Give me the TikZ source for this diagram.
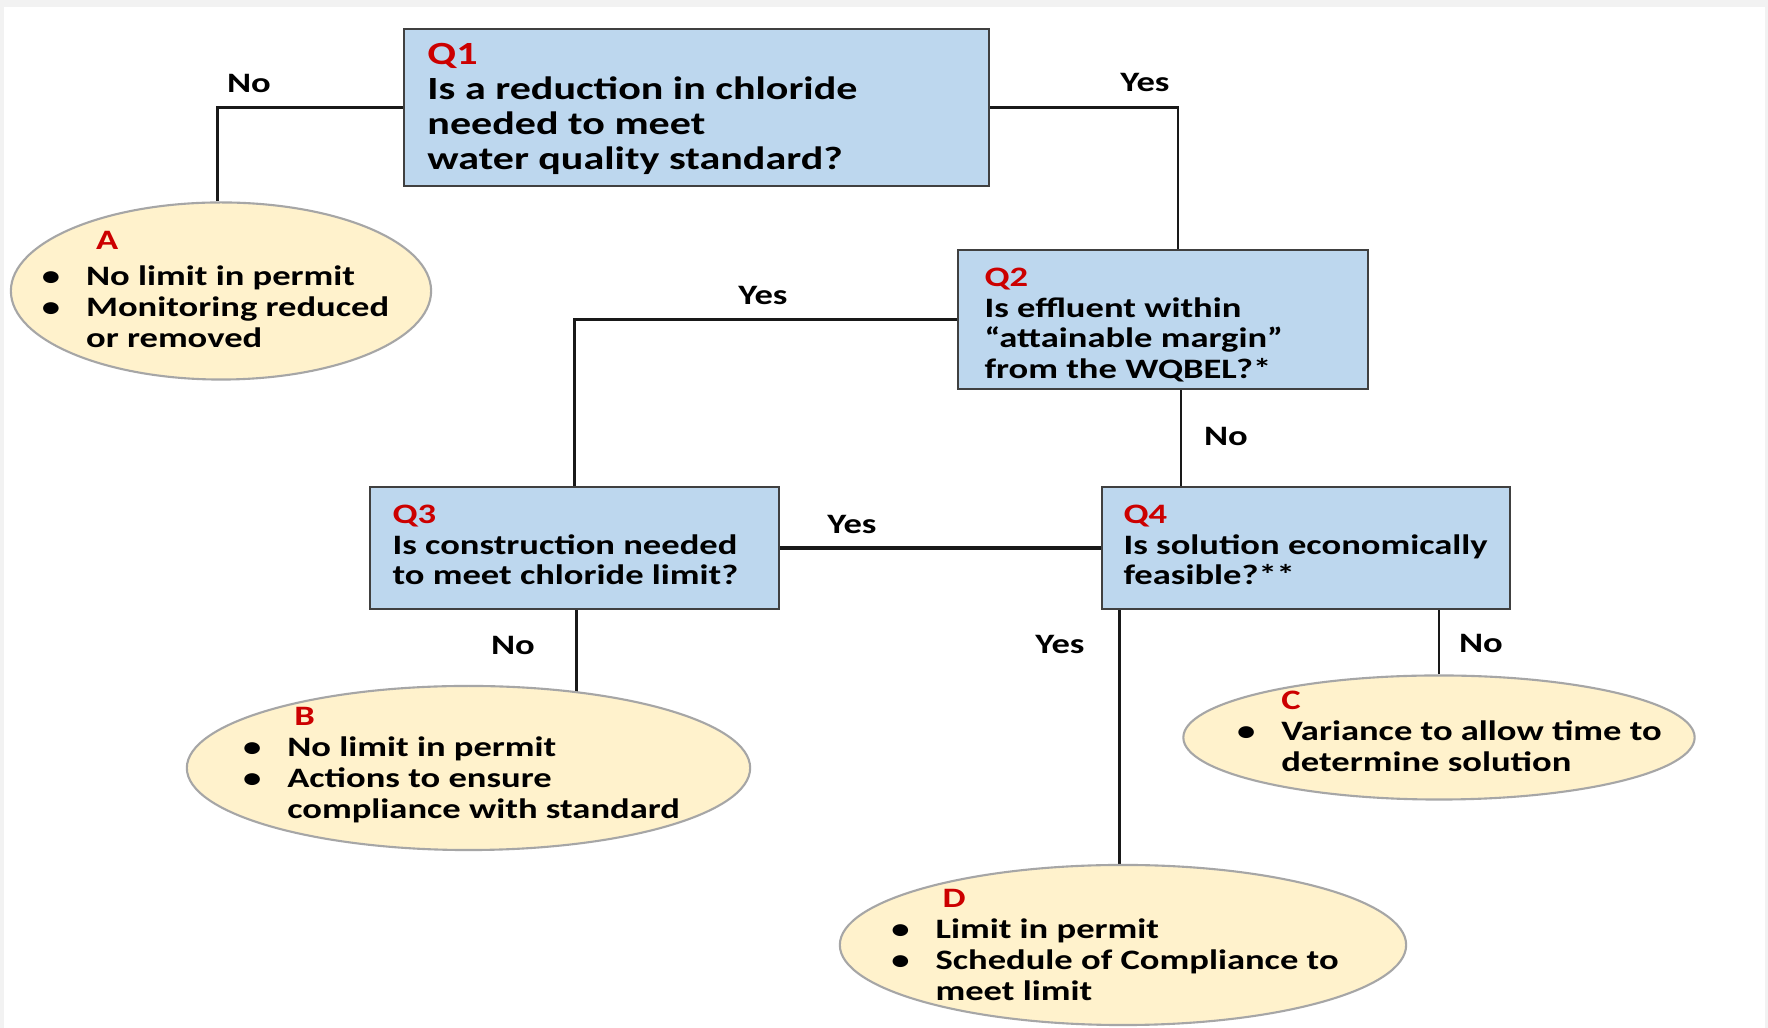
\documentclass[tikz,border=0pt]{standalone}
\usepackage{fontspec}
\setmainfont{Carlito}[FakeStretch=1.3]
\usetikzlibrary{shapes.geometric,positioning,calc,backgrounds}

\definecolor{qblue}{RGB}{189,215,238}
\definecolor{qcream}{RGB}{255,242,204}
\definecolor{qred}{RGB}{204,0,0}
\definecolor{qedge}{RGB}{64,64,64}

\newcommand{\qlabel}[1]{\textcolor{qred}{#1}}

\tikzset{
  qbox/.style={draw=qedge, line width=0.6pt, fill=qblue, rectangle, inner sep=0pt},
  qtext/.style={anchor=west, align=left, inner sep=0pt, font={\fontsize{8}{8.7}\selectfont\bfseries}},
  outcome/.style={draw=gray!70, line width=0.6pt, fill=qcream, ellipse, inner sep=0pt},
  outtext/.style={align=left, inner sep=0pt, font={\fontsize{8}{8.8}\selectfont\bfseries}},
  branch/.style={inner sep=1pt, font={\fontsize{8}{9}\selectfont\bfseries}},
  link/.style={line width=0.8pt, black!90},
}

\begin{document}
\begin{tikzpicture}[x=0.01cm, y=-0.01cm]
    \useasboundingbox (0,0) rectangle (1768,1028);

    % Questions
    \node[qbox, minimum width=5.85cm, minimum height=1.57cm] (q1) at (696.5,107.5) {};
    \node[qtext, font={\fontsize{9.2}{10}\selectfont\bfseries}] (q1-txt) at ([xshift=0.24cm, yshift=-0.015cm]q1.west)
        {\qlabel{Q1}\\Is a reduction in chloride\\needed to meet\\water quality standard?};

    \node[qbox, minimum width=4.10cm, minimum height=1.39cm] (q2) at (1163,319.5) {};
    \node[qtext] (q2-txt) at ([xshift=0.27cm, yshift=-0.055cm]q2.west)
        {\qlabel{Q2}\\Is effluent within\\``attainable margin''\\from the WQBEL?*};

    \node[qbox, minimum width=4.09cm, minimum height=1.22cm] (q3) at (574.5,548) {};
    \node[qtext] (q3-txt) at ([xshift=0.23cm, yshift=0.03cm]q3.west)
        {\qlabel{Q3}\\Is construction needed\\to meet chloride limit?};

    \node[qbox, minimum width=4.08cm, minimum height=1.22cm] (q4) at (1306,548) {};
    \node[qtext] (q4-txt) at ([xshift=0.22cm, yshift=0.03cm]q4.west)
        {\qlabel{Q4}\\Is solution economically\\feasible?**};

    % Outcomes
    \node[outcome, minimum width=4.20cm, minimum height=1.77cm] (a) at (221,291) {};
    \node[outtext] (a-txt) at (215.5,292) {\begin{tabular}{@{}l@{\hspace{0.26cm}}l@{}}
        & \hspace{0.1cm}\qlabel{A}\\[0.05cm] \textbullet & No limit in permit\\ \textbullet & Monitoring reduced\\ & or removed\end{tabular}};

    \node[outcome, minimum width=5.63cm, minimum height=1.64cm] (b) at (468.5,768) {};
    \node[outtext] (b-txt) at (461.5,766) {\begin{tabular}{@{}l@{\hspace{0.26cm}}l@{}}
        & \hspace{0.07cm}\qlabel{B}\\ \textbullet & No limit in permit\\ \textbullet & Actions to ensure\\ & compliance with standard\end{tabular}};

    \node[outcome, minimum width=5.11cm, minimum height=1.24cm] (c) at (1439,737.5) {};
    \node[outtext] (c-txt) at (1449.5,734.5) {\begin{tabular}{@{}l@{\hspace{0.26cm}}l@{}}
        & \qlabel{C}\\ \textbullet & Variance to allow time to\\ & determine solution\end{tabular}};

    \node[outcome, minimum width=5.66cm, minimum height=1.60cm] (d) at (1123,945) {};
    \node[outtext] (d-txt) at (1115,948) {\begin{tabular}{@{}l@{\hspace{0.26cm}}l@{}}
        & \hspace{0.07cm}\qlabel{D}\\ \textbullet & Limit in permit\\ \textbullet & Schedule of Compliance to\\ & meet limit\end{tabular}};

    % Page and connectors
    \begin{scope}[on background layer]
        \fill[gray!10] (0,0) rectangle (1768,1028);
        \fill[white] (4,7) rectangle (1765,1028);
        \draw[link] (q1.west) -| ([xshift=-0.035cm]a.north);
        \draw[link] (q1.east) -| ([xshift=0.15cm]q2.north);
        \draw[link] (q2.west) -| (q3.north);
        \draw[link] ([xshift=0.18cm]q2.south) -- ([xshift=0.18cm]q2.south |- q4.north);
        \draw[link, line width=1pt] (q3.east) -- (q4.west);
        \draw[link] ([xshift=0.02cm]q3.south) -- ([xshift=0.02cm]q3.south |- b.center);
        \draw[link] ([xshift=-0.034cm]d.north) -- ([xshift=-0.034cm]d.north |- q4.south);
        \draw[link] (c.north) -- (c.north |- q4.south);
    \end{scope}

    % Branch labels
    \node[branch] (no-a) at (249,83) {No};
    \node[branch] (yes-q2) at (1145,82) {Yes};
    \node[branch] (yes-q3) at (763,295) {Yes};
    \node[branch] (no-q4) at (1226,436) {No};
    \node[branch] (yes-q4) at (852,524) {Yes};
    \node[branch] (no-b) at (513,645) {No};
    \node[branch] (yes-d) at (1060,644) {Yes};
    \node[branch] (no-c) at (1481,643) {No};
\end{tikzpicture}
\end{document}
